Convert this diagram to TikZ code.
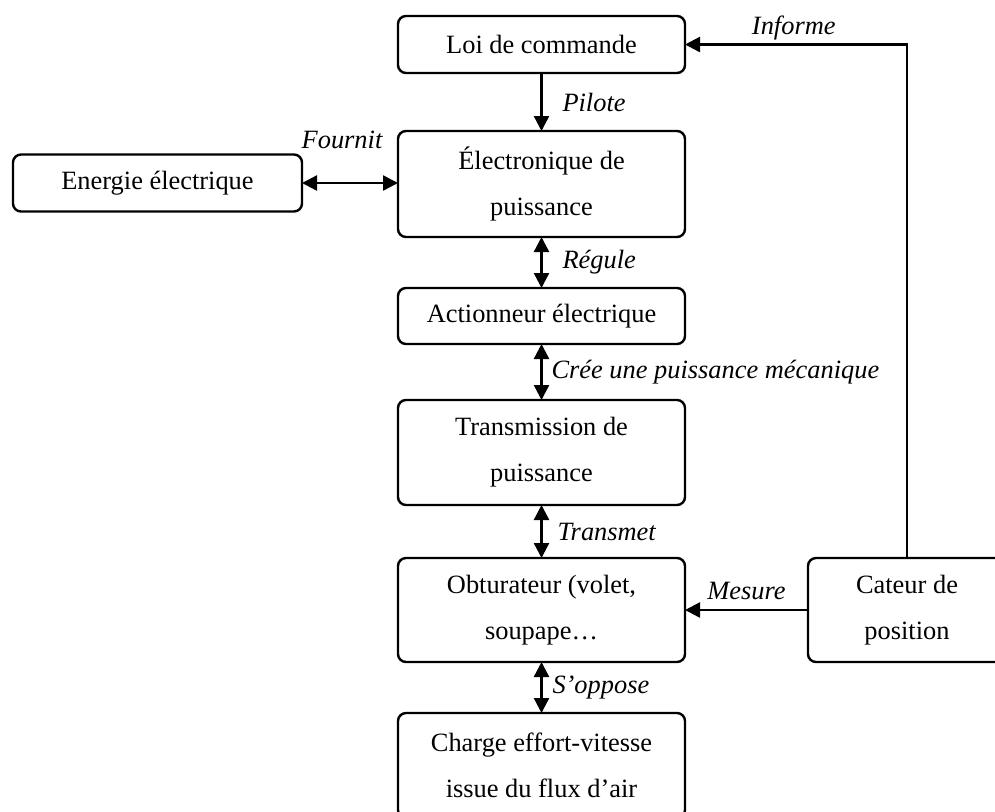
\documentclass[tikz,border=0pt]{standalone}
\usepackage{fontspec}
\setmainfont{Liberation Serif}
\usepackage{tikz}
\usetikzlibrary{arrows.meta}
\usetikzlibrary{positioning}
\tikzset{
% Define standard arrow tip
>={Triangle[length=7.5pt, width=7.5pt]}
}

\begin{document}
\begin{tikzpicture}[x=0.5pt, y=-0.5pt, line width=1.2pt, inner sep=0, outer sep=0,
    font=\fontsize{13.2}{23}\selectfont,
    bloc/.style={rectangle, draw=black, rounded corners=4pt, align=center,
      minimum width=143.5pt, minimum height=28.5pt},
    verbe/.style={font=\fontsize{13.2}{15}\selectfont\itshape}]
  \clip (0,0) rectangle (995,811);

  \node[bloc] (loi) at (541.5, 44.5) {Loi de commande};
  \node[bloc, minimum height=53pt] (elec) at (541.5, 184) {Électronique de\\puissance};
  \node[bloc, minimum width=144.5pt] (energie) at (157.5, 183) {Energie électrique};
  \node[bloc, minimum height=28pt] (action) at (541.5, 316) {Actionneur électrique};
  \node[bloc, minimum height=52.5pt] (trans) at (541.5, 452.5) {Transmission de\\puissance};
  \node[bloc, minimum height=52pt] (obtu) at (541.5, 610) {Obturateur (volet,\\soupape…};
  \node[bloc, minimum height=52.5pt] (charge) at (541.5, 765.5) {Charge effort-vitesse\\issue du flux d’air};
  \node[bloc, minimum width=99pt, minimum height=52pt] (capteur) at (907, 610) {Cateur de\\position};

  \draw[->] (loi) -- (elec)
    node[verbe, midway, right=10.5pt]{Pilote};
  \draw[<->] (energie.east) -- (energie.east -| elec.west)
    node[verbe, midway, above=17pt, xshift=-4pt]{Fournit};
  \draw[<->] (elec) -- (action)
    node[verbe, midway, right=10.5pt]{Régule};
  \draw[<->] (action) -- (trans)
    node[verbe, midway, right=5pt]{Crée une puissance mécanique};
  \draw[<->] (trans) -- (obtu)
    node[verbe, midway, right=8pt]{Transmet};
  \draw[<->] (obtu) -- (charge)
    node[verbe, midway, right=5.5pt]{S’oppose};

  \draw[->] (capteur.west) -- (obtu.east)
    node[verbe, midway, above=5pt]{Mesure};
  \draw[->] (capteur.north) |- (loi.east)
    node[verbe, pos=0.755, above=2pt]{Informe};
\end{tikzpicture}
\end{document}
